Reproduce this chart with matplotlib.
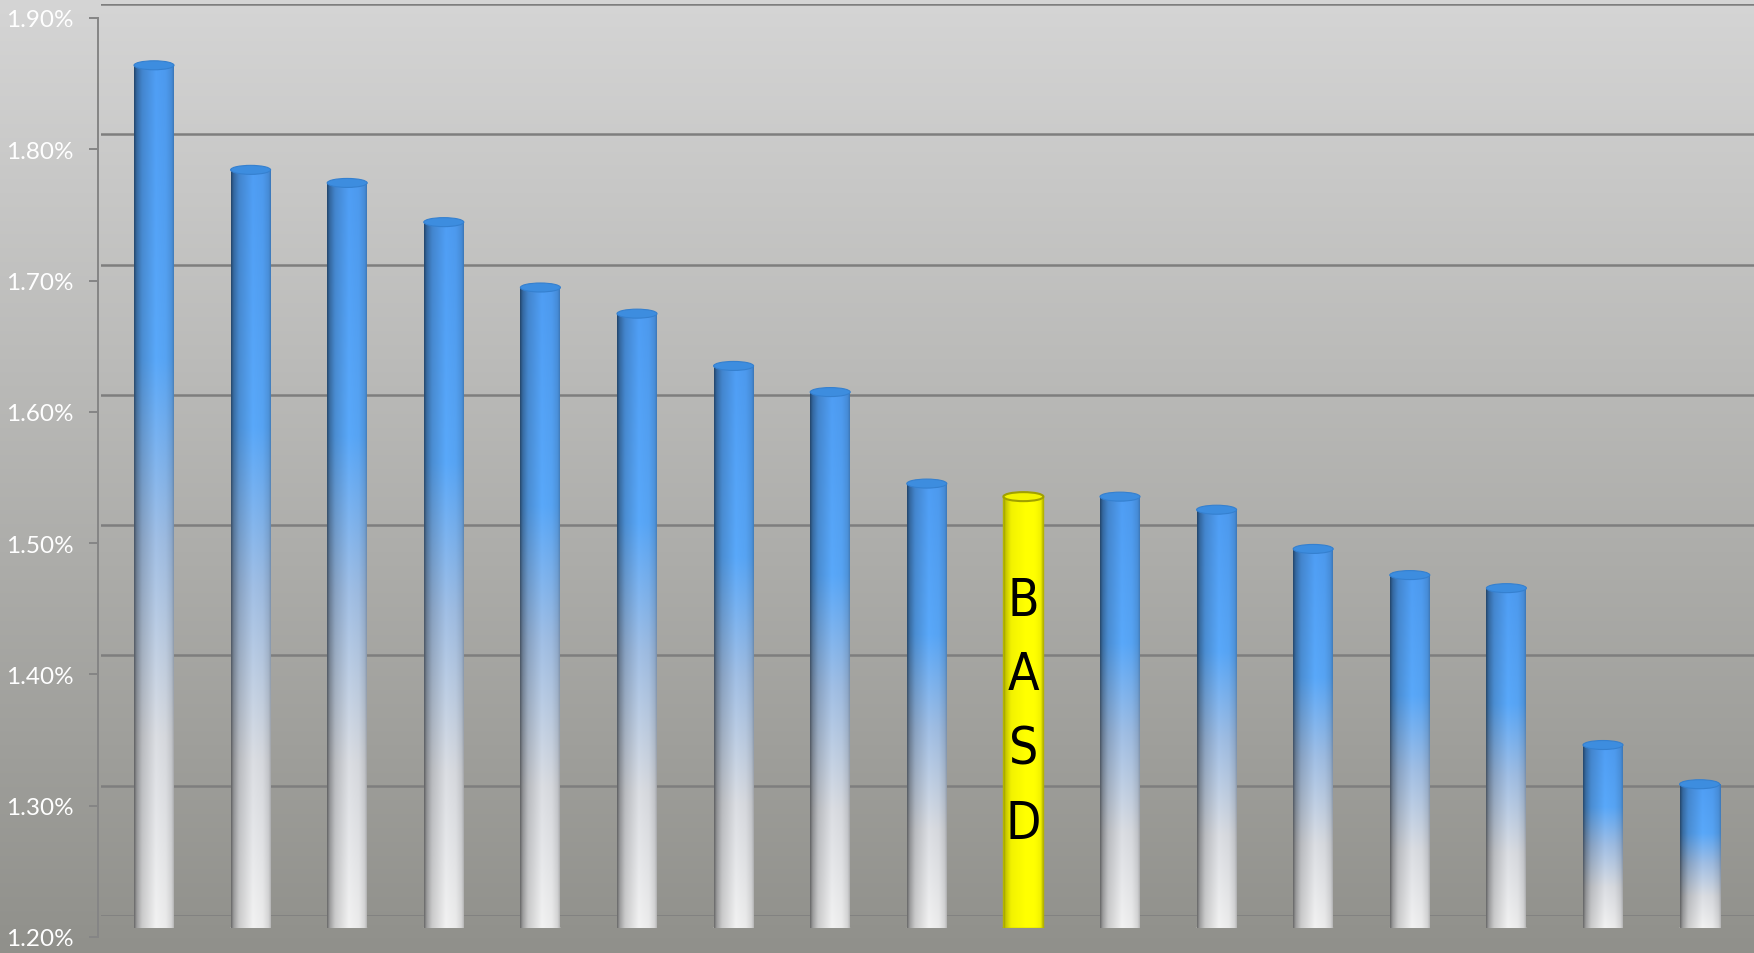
import numpy as np
import matplotlib
matplotlib.use("Agg")
import matplotlib.pyplot as plt
from matplotlib.patches import Ellipse, Rectangle
from matplotlib.ticker import FuncFormatter

# ---- data (values in %) ----
values = [1.86, 1.78, 1.77, 1.74, 1.69, 1.67, 1.63, 1.61, 1.54,
          1.53, 1.53, 1.52, 1.49, 1.47, 1.46, 1.34, 1.31]
highlight_index = 9
highlight_label = "BASD"
y_ticks = [1.20, 1.30, 1.40, 1.50, 1.60, 1.70, 1.80, 1.90]
y_min, y_max = 1.20, 1.90

W, H = 1754, 954
fig = plt.figure(figsize=(W / 100, H / 100), dpi=100)


def rect(left, top, bottom, right=W):
    return [left / W, (H - bottom) / H, (right - left) / W, (bottom - top) / H]


# ---- background gradient ----
bg = fig.add_axes([0, 0, 1, 1], zorder=0)
g = np.linspace(0, 1, 256)[:, None]
top_c = np.array([0.835, 0.835, 0.835])
bot_c = np.array([0.565, 0.565, 0.545])
grad = top_c[None, None, :] * (1 - g[..., None]) + bot_c[None, None, :] * g[..., None]
grad = np.repeat(grad, 2, axis=1)
bg.imshow(grad, aspect="auto", extent=[0, 1, 0, 1], interpolation="bilinear")
bg.set_axis_off()

# ---- back wall gridlines ----
back = fig.add_axes(rect(101, 5, 917), zorder=1)
back.set_ylim(y_min, y_max)
back.set_xlim(0, 1)
back.patch.set_alpha(0)
back.set_axis_off()
for t in y_ticks:
    back.axhline(t, color="#7e7e7e", lw=1.8, zorder=1)

# ---- bars (mid depth) ----
ax = fig.add_axes(rect(0, 14, 929), zorder=2)
ax.patch.set_alpha(0)
spacing_px = 96.6
first_px = 154
x_lo = -first_px / spacing_px
x_hi = (W - first_px) / spacing_px
bar_w = 40 / spacing_px
px_per_unit_y = (929 - 14) / (y_max - y_min)
ell_h = 9 / px_per_unit_y

ncols = 48
tx = np.linspace(0, 1, ncols)
shade_blue = np.interp(tx, [0, 0.06, 0.2, 0.55, 0.8, 0.95, 1],
                       [0.45, 0.65, 0.84, 1.0, 0.97, 0.88, 0.76])
shade_yel = np.interp(tx, [0, 0.06, 0.2, 0.55, 0.8, 0.95, 1],
                      [0.55, 0.78, 0.95, 1.0, 1.0, 0.95, 0.78])

f_stops = [0.0, 0.22, 0.45, 0.66, 1.0]
c_stops = np.array([[0.95, 0.95, 0.95],
                    [0.86, 0.87, 0.89],
                    [0.63, 0.75, 0.90],
                    [0.35, 0.66, 0.98],
                    [0.31, 0.62, 0.96]])

for i, v in enumerate(values):
    nrows = 300
    f = np.linspace(1, 0, nrows)
    if i == highlight_index:
        base = np.tile(np.array([1.0, 1.0, 0.0]), (nrows, 1))
        shade = shade_yel
    else:
        base = np.stack([np.interp(f, f_stops, c_stops[:, k]) for k in range(3)], axis=1)
        shade = shade_blue
    img = np.clip(base[:, None, :] * shade[None, :, None], 0, 1)
    x0, x1 = i - bar_w / 2, i + bar_w / 2
    if i == highlight_index:
        ax.add_patch(Ellipse((i, y_min), bar_w, ell_h, facecolor="#e8e800",
                             edgecolor="#a8a800", lw=1.2, zorder=1.9))
    else:
        ax.add_patch(Ellipse((i, y_min), bar_w, ell_h, facecolor="#dcdcdc",
                             edgecolor="none", zorder=1.9))
    ax.imshow(img, extent=[x0, x1, y_min, v], aspect="auto",
              interpolation="bilinear", zorder=2)
    if i == highlight_index:
        ax.add_patch(Rectangle((x0, y_min), bar_w, v - y_min, fill=False,
                               edgecolor="#b4b400", lw=1.0, zorder=2.1))
        ax.add_patch(Ellipse((i, v), bar_w, ell_h, facecolor="#f4f400",
                             edgecolor="#a0a000", lw=1.5, zorder=3))
        ax.text(i, (y_min + v) / 2, "\n".join(highlight_label), ha="center",
                va="center", fontsize=37, color="black", linespacing=1.62,
                family=["Liberation Sans Narrow", "DejaVu Sans"],
                fontstretch="condensed", zorder=4)
    else:
        ax.add_patch(Ellipse((i, v), bar_w, ell_h, facecolor="#3d8ddf",
                             edgecolor="#3580cf", lw=0.8, zorder=3))

ax.set_xlim(x_lo, x_hi)
ax.set_ylim(y_min, y_max)
ax.set_axis_off()

# ---- front axis (ticks and labels) ----
front = fig.add_axes(rect(98, 19, 938), zorder=3)
front.patch.set_alpha(0)
front.set_ylim(y_min, y_max)
front.set_xlim(0, 1)
for s in ["top", "right", "bottom"]:
    front.spines[s].set_visible(False)
front.spines["left"].set_color("#858585")
front.spines["left"].set_linewidth(1.4)
front.set_xticks([])
front.set_yticks(y_ticks)
front.yaxis.set_major_formatter(FuncFormatter(lambda v, p: f"{v:.2f}%"))
front.tick_params(axis="y", direction="out", length=6.5, width=1.4,
                  color="#858585", labelcolor="white", labelsize=17.5, pad=11)
for lab in front.get_yticklabels():
    lab.set_family(["Lato", "DejaVu Sans"])

fig.savefig("out.png", dpi=100)
